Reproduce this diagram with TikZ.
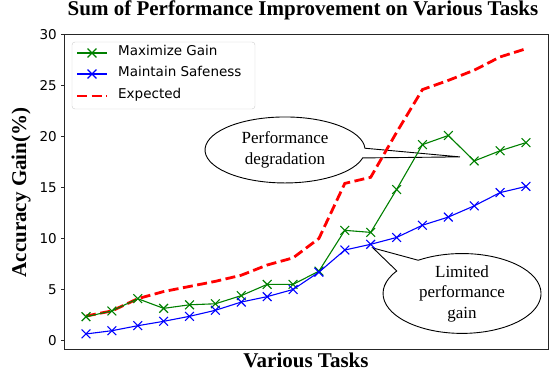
\documentclass[tikz,border=0pt]{standalone}
\usepackage{fontspec}
\setmainfont{Liberation Serif}
\newfontfamily\tickfont{DejaVu Sans}
\usetikzlibrary{shapes.callouts}

\definecolor{gaingreen}{rgb}{0,0.5,0}
\definecolor{safeblue}{rgb}{0,0,1}
\definecolor{expred}{rgb}{1,0,0}

\tikzset{
  gainplot/.style={gaingreen, line width=1.1pt, mark=x, mark size=6.2pt,
    mark options={solid, line width=1.1pt}},
  safeplot/.style={safeblue, line width=1.1pt, mark=x, mark size=6.2pt,
    mark options={solid, line width=1.1pt}},
  expplot/.style={expred, line width=2.8pt, dash pattern=on 10pt off 4.5pt},
  bubble/.style={ellipse callout, draw=black, fill=white, line width=0.9pt,
    font=\fontsize{17}{20.5}\selectfont, align=center, inner sep=0pt,
    callout pointer arc=22},
  ticklabel/.style={font=\tickfont\fontsize{13.5}{16}\selectfont, anchor=east, inner sep=0pt},
  legendtext/.style={font=\tickfont\fontsize{13.5}{16}\selectfont, anchor=mid west, inner sep=0pt},
  boldlabel/.style={font=\bfseries\fontsize{21}{25}\selectfont, inner sep=0pt},
  axisline/.style={black!85, line width=0.8pt}
}

\begin{document}
\begin{tikzpicture}
  \useasboundingbox (0,0) rectangle (552pt,377pt);
  % titles
  \node[boldlabel, anchor=base] (title) at (303pt,361pt) {Sum of Performance Improvement on Various Tasks};
  \node[boldlabel, anchor=base] (xlab) at (306pt,9pt) {Various Tasks};
  \node[boldlabel, rotate=90, anchor=base] (ylab) at (26pt,184.5pt) {Accuracy Gain(\%)};

  \begin{scope}[shift={(86pt,36.5pt)}, x=25.88pt, y=10.2pt]
    \draw[axisline] (-0.85,-0.83) rectangle (17.85,30.05);
    \foreach \v in {0,5,...,30} {
      \draw[axisline] (-0.85,\v) -- ++(-3.5pt,0) coordinate (tk\v);
      \node[ticklabel] (tl\v) at ([xshift=-3.5pt]tk\v) {\v};
    }

    % callouts
    \coordinate (tipA) at (14.45,18.0);
    \coordinate (tipB) at (11.09,9.07);
    \node[bubble, minimum width=160pt, minimum height=66pt, callout pointer arc=17,
      callout absolute pointer={(tipA)}] (degr) at (7.69,18.68) {Performance\\degradation};
    \node[bubble, minimum width=158pt, minimum height=61pt,
      callout absolute pointer={(tipB)}] (limit) at (14.53,4.61) {Limited\\performance\\gain};

    % data
    \draw[expplot] plot coordinates {(0,2.4) (1,2.9) (2,4.1) (3,4.8) (4,5.3) (5,5.8)
      (6,6.4) (7,7.4) (8,8.1) (9,10.0) (10,15.4) (11,16.0) (12,20.4) (13,24.6)
      (14,25.5) (15,26.5) (16,27.8) (17,28.6)};
    \draw[gainplot] plot coordinates {(0,2.33) (1,2.9) (2,4.1) (3,3.15) (4,3.5) (5,3.6)
      (6,4.4) (7,5.5) (8,5.5) (9,6.8) (10,10.8) (11,10.6) (12,14.8) (13,19.2)
      (14,20.1) (15,17.6) (16,18.6) (17,19.4)};
    \draw[safeplot] plot coordinates {(0,0.64) (1,0.96) (2,1.45) (3,1.88) (4,2.37) (5,2.96)
      (6,3.77) (7,4.3) (8,5.0) (9,6.7) (10,8.87) (11,9.43) (12,10.1) (13,11.3)
      (14,12.1) (15,13.2) (16,14.5) (17,15.1)};
  \end{scope}

  % legend
  \draw[rounded corners=3pt, draw=black!20, fill=white, fill opacity=0.8] (72pt,268pt) rectangle (255pt,335pt);
  \draw[gainplot, mark=none] (77pt,324pt) -- (107pt,324pt);
  \path[gainplot] plot[only marks] coordinates {(92pt,324pt)};
  \node[legendtext] (lgain) at (118pt,324pt) {Maximize Gain};
  \draw[safeplot, mark=none] (77pt,303pt) -- (107pt,303pt);
  \path[safeplot] plot[only marks] coordinates {(92pt,303pt)};
  \node[legendtext] (lsafe) at (118pt,303pt) {Maintain Safeness};
  \draw[expplot] (77pt,281pt) -- (107pt,281pt);
  \node[legendtext] (lexp) at (118pt,281pt) {Expected};
\end{tikzpicture}
\end{document}
